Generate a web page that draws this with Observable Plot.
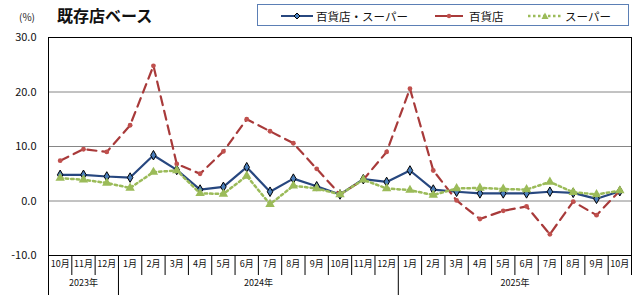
<!DOCTYPE html>
<html><head><meta charset="utf-8">
<script src="https://cdn.jsdelivr.net/npm/d3@7"></script>
<script src="https://cdn.jsdelivr.net/npm/@observablehq/plot@0.6"></script>
<style>
body{margin:0;background:#fff;font-family:"Noto Sans CJK JP","Noto Sans",sans-serif;}
#wrap{position:relative;width:640px;height:300px;overflow:hidden;}
#head{position:relative;width:640px;height:29px;}
#unit{position:absolute;left:19px;top:9px;font-size:10px;color:#222;}
#title{position:absolute;left:57px;top:3px;font-size:16px;font-weight:bold;color:#111;letter-spacing:0px;}
#legend{position:absolute;left:257px;top:4px;width:372px;height:22px;border:1px solid #5b7fb5;box-sizing:border-box;}
.li{position:absolute;top:0;height:22px;display:flex;align-items:center;font-size:11.5px;color:#111;white-space:nowrap;}
.li svg{margin-right:3px;}
#chart svg{display:block;overflow:visible;}
</style></head><body>
<div id="wrap">
<div id="head">
<div id="unit">(%)</div>
<div id="title">既存店ベース</div>
<div id="legend"></div>
</div>
<div id="chart"></div>
</div>
<script>
const monthLabels = ["10月","11月","12月","1月","2月","3月","4月","5月","6月","7月","8月","9月","10月","11月","12月","1月","2月","3月","4月","5月","6月","7月","8月","9月","10月"];
const totalValues = [4.8,4.8,4.5,4.3,8.4,5.7,2.1,2.6,6.2,1.7,4.1,2.7,1.2,4.0,3.5,5.6,2.1,1.7,1.4,1.4,1.4,1.7,1.5,0.4,1.8];
const deptValues  = [7.4,9.5,9.0,13.9,24.8,6.8,5.0,9.1,15.0,12.8,10.6,5.9,1.2,3.9,9.0,20.6,5.6,0.1,-3.3,-1.8,-1.0,-6.1,-0.1,-2.6,1.9];
const superValues = [4.2,3.9,3.3,2.4,5.3,5.6,1.4,1.3,4.6,-0.6,2.8,2.3,1.2,3.9,2.3,2.0,1.1,2.3,2.4,2.2,2.1,3.5,1.6,1.2,1.9];
const yearLabels = ["2023年","2024年","2025年"];
const yearStart = [0,3,15];
const yearEnd = [2,14,24];
const yTicks = [-10,0,10,20,30];
const seriesNames = ["百貨店・スーパー","百貨店","スーパー"];

const C_BLUE = "#27477f", C_BLUE_FILL = "#4a7ebb", C_RED = "#a83a3a", C_RED_FILL = "#c0504d", C_GREEN = "#9bbb59";

const rows = monthLabels.map((m, i) => ({i, m, total: totalValues[i], dept: deptValues[i], sup: superValues[i]}));
const years = yearLabels.map((y, k) => ({y, mid: (yearStart[k] + yearEnd[k]) / 2, start: yearStart[k] - 0.5}));

// legend
const leg = document.getElementById("legend");
const legendDefs = [
  {left: 23, w: 32, svg: `<line x1="0" y1="6" x2="32" y2="6" stroke="${C_BLUE}" stroke-width="2"/><path d="M16,3 L19,6 L16,9 L13,6Z" fill="${C_BLUE_FILL}" stroke="#000" stroke-width="1"/>`},
  {left: 177, w: 28, svg: `<line x1="0" y1="6" x2="28" y2="6" stroke="${C_RED}" stroke-width="2"/><circle cx="14" cy="6" r="2.2" fill="${C_RED_FILL}"/>`, gap: 6},
  {left: 270, w: 34, svg: `<line x1="0" y1="6" x2="34" y2="6" stroke="${C_GREEN}" stroke-width="2.5" stroke-dasharray="2.5,2.5"/><path d="M17,2.5 L20.5,9 L13.5,9Z" fill="${C_GREEN}"/>`}
];
legendDefs.forEach((d, k) => {
  const div = document.createElement("div");
  div.className = "li";
  div.style.left = d.left + "px";
  div.innerHTML = `<svg width="${d.w}" height="12" style="margin-right:${d.gap||3}px">${d.svg}</svg><span>${seriesNames[k]}</span>`;
  leg.appendChild(div);
});

const plot = Plot.plot({
  width: 640,
  height: 271,
  marginLeft: 48,
  marginRight: 9,
  marginTop: 8,
  marginBottom: 45,
  style: {fontFamily: "'Noto Sans CJK JP','Noto Sans',sans-serif", fontSize: "11px", color: "#111", background: "transparent"},
  x: {type: "linear", domain: [-0.5, 24.5], axis: null},
  y: {domain: [-10, 30], axis: null},
  marks: [
    Plot.ruleY([0, 10, 20], {stroke: "#868686", strokeWidth: 1}),
    Plot.axisY({ticks: yTicks, tickSize: 0, tickPadding: 12, tickFormat: d => d.toFixed(1), fontSize: 11}),
    // month separators
    Plot.ruleX(d3.range(-0.5, 25, 1), {stroke: "#000", strokeWidth: 1, insetTop: 218, insetBottom: -20}),
    Plot.axisX({ticks: d3.range(25), tickSize: 0, tickPadding: 5, tickFormat: i => monthLabels[i], fontSize: 9}),
    // year separators
    Plot.ruleX(years, {x: "start", stroke: "#000", strokeWidth: 1, insetTop: 238, insetBottom: -40}),
    Plot.text(years, {x: "mid", text: "y", frameAnchor: "bottom", dy: 30, fontSize: 9}),
    Plot.frame({stroke: "#000", strokeWidth: 1}),
    // series 1: total
    Plot.line(rows, {x: "i", y: "total", stroke: C_BLUE, strokeWidth: 2.2}),
    Plot.dot(rows, {x: "i", y: "total", symbol: "diamond", r: 2.9, fill: C_BLUE_FILL, stroke: "#000", strokeWidth: 1}),
    // series 2: department stores
    Plot.line(rows, {x: "i", y: "dept", stroke: C_RED, strokeWidth: 2.2, strokeDasharray: "9,6"}),
    Plot.dot(rows, {x: "i", y: "dept", r: 2.4, fill: C_RED_FILL, stroke: "none"}),
    // series 3: supermarkets
    Plot.line(rows, {x: "i", y: "sup", stroke: C_GREEN, strokeWidth: 2.5, strokeDasharray: "2.5,3"}),
    Plot.dot(rows, {x: "i", y: "sup", symbol: "triangle", r: 3.5, fill: C_GREEN, stroke: "none"})
  ]
});
document.getElementById("chart").appendChild(plot);
</script>
</body></html>
